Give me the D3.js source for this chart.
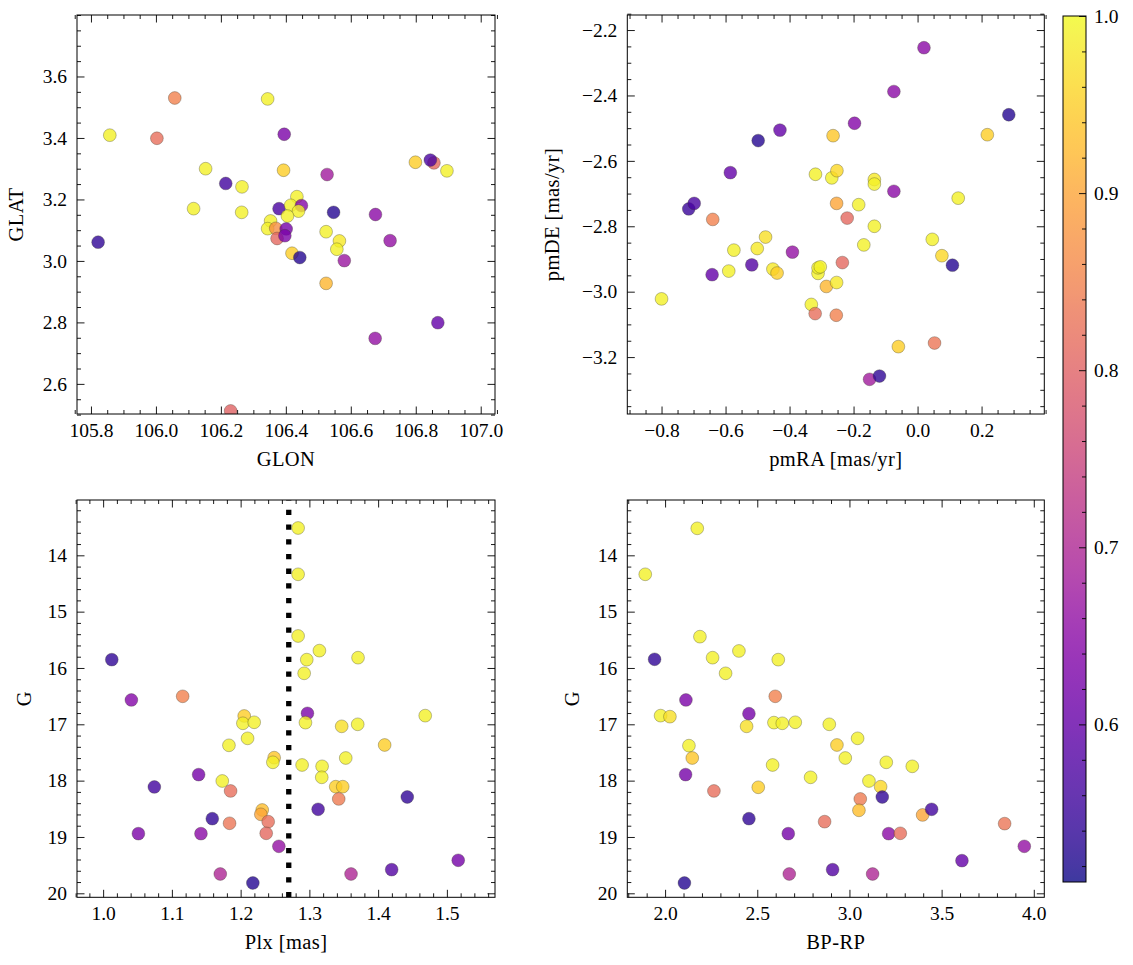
<!DOCTYPE html>
<html><head><meta charset="utf-8">
<script src="https://cdn.jsdelivr.net/npm/d3@7"></script>
<style>body{margin:0;background:#fff} svg text{font-family:'Liberation Serif','Times New Roman',serif !important;}</style>
</head><body>
<script>
// ---------------- DATA ----------------
// Panel 1: GLON vs GLAT
const glon = [105.858,106.058,106.003,106.344,106.395,106.153,106.215,106.265,106.116,106.264,106.393,106.527,106.799,106.856,106.845,106.896,106.379,106.434,106.415,106.448,106.439,106.405,106.353,106.344,106.369,106.401,106.373,106.397,106.547,106.676,106.524,106.565,106.557,106.419,106.443,106.721,106.580,106.524,105.822,106.868,106.675,106.230];
const glat = [3.409,3.530,3.399,3.527,3.412,3.300,3.252,3.241,3.170,3.158,3.295,3.281,3.321,3.319,3.328,3.293,3.170,3.209,3.181,3.180,3.162,3.146,3.130,3.105,3.106,3.104,3.073,3.082,3.158,3.151,3.095,3.065,3.038,3.025,3.011,3.066,3.001,2.927,3.061,2.799,2.748,2.512];
const prob1 = [0.99,0.85,0.82,0.99,0.63,0.99,0.56,0.99,0.99,0.99,0.95,0.68,0.95,0.81,0.57,0.99,0.57,0.99,0.99,0.64,0.99,0.99,0.99,0.99,0.87,0.62,0.81,0.63,0.53,0.65,0.99,0.98,0.99,0.95,0.53,0.66,0.67,0.92,0.54,0.60,0.66,0.80];

// Panel 2: pmRA vs pmDE
const pmra = [0.020,-0.074,0.285,0.218,-0.197,-0.264,-0.430,-0.498,-0.585,-0.319,-0.268,-0.252,-0.135,-0.135,-0.074,0.127,-0.253,-0.184,-0.220,-0.135,-0.168,0.046,0.076,0.109,-0.235,-0.391,-0.475,-0.501,-0.574,-0.590,-0.642,-0.518,-0.452,-0.439,-0.311,-0.311,-0.304,-0.285,-0.253,-0.332,-0.320,-0.254,-0.800,-0.640,-0.715,-0.698,-0.060,0.053,-0.150,-0.119];
const pmde = [-2.254,-2.388,-2.459,-2.520,-2.485,-2.523,-2.506,-2.538,-2.636,-2.641,-2.652,-2.630,-2.657,-2.671,-2.693,-2.714,-2.730,-2.734,-2.775,-2.800,-2.857,-2.840,-2.890,-2.919,-2.911,-2.879,-2.833,-2.868,-2.873,-2.937,-2.948,-2.918,-2.931,-2.943,-2.944,-2.927,-2.924,-2.984,-2.972,-3.039,-3.067,-3.072,-3.022,-2.779,-2.747,-2.730,-3.168,-3.157,-3.268,-3.258];
const prob2 = [0.65,0.65,0.53,0.95,0.64,0.94,0.60,0.53,0.60,0.99,0.99,0.96,0.98,0.99,0.65,0.99,0.90,0.99,0.81,0.99,0.99,0.99,0.96,0.53,0.81,0.66,0.97,0.98,0.99,0.99,0.60,0.58,0.98,0.95,0.99,0.99,0.99,0.92,0.98,0.99,0.82,0.85,0.99,0.85,0.55,0.57,0.95,0.83,0.68,0.54];

// Panel 3: Plx vs G
const plx = [1.2836,1.2836,1.2836,1.3146,1.2962,1.3708,1.2924,1.0126,1.0411,1.1157,1.2972,1.2052,1.2033,1.2197,1.2943,1.3470,1.3703,1.4685,1.2101,1.1830,1.4095,1.2488,1.2469,1.3529,1.2894,1.3185,1.3180,1.1389,1.1733,1.0745,1.1854,1.3383,1.3485,1.3427,1.4424,1.3127,1.2314,1.2294,1.2401,1.1588,1.1839,1.0513,1.1423,1.2372,1.2556,1.5165,1.4197,1.1704,1.3606,1.2178];
const g3 = [13.515,14.337,15.432,15.692,15.852,15.817,16.095,15.852,16.568,16.503,16.805,16.852,16.982,16.964,16.970,17.036,17.000,16.846,17.249,17.373,17.367,17.592,17.675,17.598,17.722,17.746,17.941,17.893,18.006,18.112,18.183,18.107,18.107,18.325,18.290,18.509,18.521,18.598,18.728,18.675,18.757,18.941,18.941,18.935,19.166,19.414,19.580,19.657,19.657,19.817];
const prob3 = [0.99,0.99,0.99,0.99,0.99,0.99,0.99,0.54,0.64,0.85,0.63,0.95,0.99,0.99,0.99,0.97,0.99,0.99,0.99,0.99,0.95,0.94,0.99,0.99,0.99,0.99,0.99,0.62,0.99,0.56,0.82,0.95,0.95,0.84,0.54,0.56,0.93,0.90,0.82,0.54,0.83,0.63,0.65,0.81,0.66,0.62,0.58,0.70,0.70,0.53];
const plxCut = 1.27;

// Panel 4: BP-RP vs G
const bprp = [2.1745,1.8924,2.1890,1.9430,2.2577,2.4005,2.6139,2.3282,2.1130,2.5976,1.9756,2.0262,2.4548,2.4421,2.5904,2.6356,2.7061,2.8906,3.0443,2.1293,2.9322,2.9774,2.1474,3.1998,3.3409,2.5832,2.1112,2.7893,3.1058,3.1691,2.5054,2.2649,3.0588,3.1781,3.0515,3.3969,3.4458,2.4548,2.8653,2.6682,3.2125,3.2758,3.8418,3.9485,3.6103,2.9087,2.6736,3.1257,2.1049];
const g4 = [13.521,14.337,15.444,15.846,15.817,15.698,15.852,16.095,16.568,16.503,16.846,16.864,16.811,17.036,16.970,16.982,16.964,17.000,17.249,17.379,17.367,17.598,17.598,17.675,17.746,17.722,17.893,17.941,18.006,18.107,18.118,18.183,18.325,18.290,18.527,18.609,18.509,18.675,18.728,18.941,18.941,18.935,18.763,19.166,19.420,19.580,19.657,19.657,19.817];
const prob4 = [0.99,0.99,0.99,0.54,0.99,0.99,0.99,0.99,0.63,0.85,0.99,0.97,0.62,0.97,0.99,0.99,0.99,0.99,0.99,0.99,0.95,0.99,0.94,0.99,0.99,0.99,0.62,0.99,0.99,0.96,0.95,0.82,0.84,0.54,0.93,0.90,0.56,0.54,0.82,0.62,0.65,0.82,0.83,0.66,0.60,0.58,0.70,0.70,0.53];

// colorbar
const cbTicks = [0.6,0.7,0.8,0.9,1.0];
const vmin = 0.511, vmax = 1.0;

// ---------------- DRAW ----------------
const W = 1133, H = 965;
const FONT = "'Liberation Serif','Times New Roman',serif";
const FS = 19.5, LFS = 20.5;
const svg = d3.select("body").append("svg").attr("width", W).attr("height", H)
  .style("font-family", FONT);
const cnorm = d3.scaleLinear().domain([vmin, vmax]).clamp(true);
const color = p => d3.interpolatePlasma(cnorm(p));

function range(a, b, s) { const out = []; const n = Math.round((b - a) / s); for (let i = 0; i <= n; i++) out.push(+(a + i * s).toFixed(6)); return out; }

const style = sel => {
  sel.attr("font-family", null).attr("font-size", null);
  sel.select(".domain").remove();
  sel.selectAll(".tick line").attr("stroke", "#000").attr("stroke-width", 0.9);
  sel.selectAll("text").style("font-family", FONT).style("font-size", FS + "px").attr("fill", "#000");
};

function panel(o) {
  const x = d3.scaleLinear().domain(o.xdom).range([o.L, o.R]);
  const y = d3.scaleLinear().domain(o.ydom).range([o.B, o.T]);
  const minorX = range(o.xminor[0], o.xminor[1], o.xminor[2]).filter(v => !o.xmajor.some(m => Math.abs(m - v) < 1e-6));
  const minorY = range(o.yminor[0], o.yminor[1], o.yminor[2]).filter(v => !o.ymajor.some(m => Math.abs(m - v) < 1e-6));
  const g = svg.append("g");
  svg.append("clipPath").attr("id", o.id).append("rect")
    .attr("x", o.L).attr("y", o.T).attr("width", o.R - o.L).attr("height", o.B - o.T);
  const plot = g.append("g").attr("clip-path", `url(#${o.id})`);
  if (o.extra) o.extra(plot, x, y);
  plot.selectAll("circle").data(d3.range(o.xs.length)).join("circle")
    .attr("cx", i => x(o.xs[i])).attr("cy", i => y(o.ys[i])).attr("r", 6.4)
    .attr("fill", i => color(o.cs[i])).attr("fill-opacity", 0.8)
    .attr("stroke", "#3a3a2a").attr("stroke-opacity", 0.55).attr("stroke-width", 0.6);

  const MJ = 7.5, MN = 4;
  g.append("g").attr("transform", `translate(0,${o.B})`)
    .call(d3.axisBottom(x).tickValues(o.xmajor).tickFormat(d3.format(o.xfmt)).tickSize(-MJ).tickPadding(9))
    .call(style);
  g.append("g").attr("transform", `translate(0,${o.B})`)
    .call(d3.axisBottom(x).tickValues(minorX).tickFormat("").tickSize(-MN)).call(style);
  g.append("g").attr("transform", `translate(0,${o.T})`)
    .call(d3.axisTop(x).tickValues(o.xmajor).tickFormat("").tickSize(-MJ)).call(style);
  g.append("g").attr("transform", `translate(0,${o.T})`)
    .call(d3.axisTop(x).tickValues(minorX).tickFormat("").tickSize(-MN)).call(style);
  g.append("g").attr("transform", `translate(${o.L},0)`)
    .call(d3.axisLeft(y).tickValues(o.ymajor).tickFormat(d3.format(o.yfmt)).tickSize(-MJ).tickPadding(10))
    .call(style);
  g.append("g").attr("transform", `translate(${o.L},0)`)
    .call(d3.axisLeft(y).tickValues(minorY).tickFormat("").tickSize(-MN)).call(style);
  g.append("g").attr("transform", `translate(${o.R},0)`)
    .call(d3.axisRight(y).tickValues(o.ymajor).tickFormat("").tickSize(-MJ)).call(style);
  g.append("g").attr("transform", `translate(${o.R},0)`)
    .call(d3.axisRight(y).tickValues(minorY).tickFormat("").tickSize(-MN)).call(style);
  g.append("rect").attr("x", o.L).attr("y", o.T).attr("width", o.R - o.L).attr("height", o.B - o.T)
    .attr("fill", "none").attr("stroke", "#000").attr("stroke-width", 1);
  g.append("text").attr("x", (o.L + o.R) / 2).attr("y", o.B + 52).attr("text-anchor", "middle")
    .style("font-size", LFS + "px").style("letter-spacing", "0.4px").text(o.xlabel);
  g.append("text").attr("transform", `translate(${o.ylx},${(o.T + o.B) / 2}) rotate(-90)`)
    .attr("text-anchor", "middle").style("font-size", LFS + "px").style("letter-spacing", "0.4px").text(o.ylabel);
}

const TOP = [15, 414], BOT = [500, 897.3];
const LEFTP = [77, 495], RIGHTP = [627.3, 1044.3];

panel({ id: "c1", L: LEFTP[0], R: LEFTP[1], T: TOP[0], B: TOP[1],
  xdom: [105.757, 107.044], ydom: [2.502, 3.800], xs: glon, ys: glat, cs: prob1,
  xmajor: range(105.8, 107.0, 0.2), xminor: [105.75, 107.05, 0.05], xfmt: ".1f",
  ymajor: range(2.6, 3.6, 0.2), yminor: [2.5, 3.8, 0.05], yfmt: ".1f",
  xlabel: "GLON", ylabel: "GLAT", ylx: 23 });

panel({ id: "c2", L: RIGHTP[0], R: RIGHTP[1], T: TOP[0], B: TOP[1],
  xdom: [-0.907, 0.396], ydom: [-3.374, -2.154], xs: pmra, ys: pmde, cs: prob2,
  xmajor: range(-0.8, 0.2, 0.2), xminor: [-0.9, 0.4, 0.05], xfmt: ".1f",
  ymajor: range(-3.2, -2.2, 0.2), yminor: [-3.35, -2.15, 0.05], yfmt: ".1f",
  xlabel: "pmRA [mas/yr]", ylabel: "pmDE [mas/yr]", ylx: 559 });

panel({ id: "c3", L: LEFTP[0], R: LEFTP[1], T: BOT[0], B: BOT[1],
  xdom: [0.962, 1.570], ydom: [20.071, 13.018], xs: plx, ys: g3, cs: prob3,
  xmajor: range(1.0, 1.5, 0.1), xminor: [0.96, 1.56, 0.02], xfmt: ".1f",
  ymajor: range(14, 20, 1), yminor: [13.2, 20.0, 0.2], yfmt: "d",
  xlabel: "Plx [mas]", ylabel: "G", ylx: 31,
  extra: (plot, x, y) => {
    plot.append("line").attr("x1", x(plxCut)).attr("x2", x(plxCut))
      .attr("y1", y(20.071)).attr("y2", y(13.018))
      .attr("stroke", "#000").attr("stroke-width", 5.3).attr("stroke-dasharray", "5.3 9.4");
  } });

panel({ id: "c4", L: RIGHTP[0], R: RIGHTP[1], T: BOT[0], B: BOT[1],
  xdom: [1.795, 4.057], ydom: [20.071, 13.018], xs: bprp, ys: g4, cs: prob4,
  xmajor: range(2.0, 4.0, 0.5), xminor: [1.8, 4.0, 0.1], xfmt: ".1f",
  ymajor: range(14, 20, 1), yminor: [13.2, 20.0, 0.2], yfmt: "d",
  xlabel: "BP-RP", ylabel: "G", ylx: 579 });

// colorbar
const CB = { L: 1063, R: 1086, T: 16, B: 882 };
const cy = d3.scaleLinear().domain([vmin, vmax]).range([CB.B, CB.T]);
const defs = svg.append("defs");
const grad = defs.append("linearGradient").attr("id", "cbg").attr("x1", 0).attr("y1", 1).attr("x2", 0).attr("y2", 0);
d3.range(0, 1.0001, 0.02).forEach(t => grad.append("stop").attr("offset", t).attr("stop-color", d3.interpolatePlasma(t)));
svg.append("rect").attr("x", CB.L).attr("y", CB.T).attr("width", CB.R - CB.L).attr("height", CB.B - CB.T)
  .attr("fill", "url(#cbg)").attr("fill-opacity", 0.8);
const cbMinor = range(0.52, 1.0, 0.02).filter(v => !cbTicks.some(m => Math.abs(m - v) < 1e-6));
svg.append("g").attr("transform", `translate(${CB.R},0)`)
  .call(d3.axisRight(cy).tickValues(cbTicks).tickFormat(d3.format(".1f")).tickSize(-7).tickPadding(8)).call(style);
svg.append("g").attr("transform", `translate(${CB.R},0)`)
  .call(d3.axisRight(cy).tickValues(cbMinor).tickFormat("").tickSize(-4)).call(style);
svg.append("rect").attr("x", CB.L).attr("y", CB.T).attr("width", CB.R - CB.L).attr("height", CB.B - CB.T)
  .attr("fill", "none").attr("stroke", "#000").attr("stroke-width", 1);
</script>
</body></html>
